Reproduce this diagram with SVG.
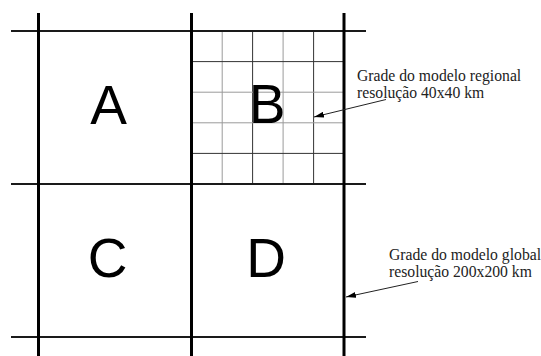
<svg xmlns="http://www.w3.org/2000/svg" width="541" height="356" viewBox="0 0 541 356">
<defs>
<style>
.hmain{stroke:#1a1a1a;stroke-width:2;fill:none}
.vmain{stroke:#000;stroke-width:3;fill:none}
.fine{stroke:#9a9a9a;stroke-width:1;fill:none}
.fined{stroke:#333;stroke-width:1;fill:none}
.big{font-family:"Liberation Sans",Arial,sans-serif;font-size:55px;fill:#000;text-anchor:middle}
.lbl{font-family:"Liberation Serif","Times New Roman",serif;font-size:15.7px;fill:#222}
.arr{stroke:#222;stroke-width:1;fill:none;marker-end:url(#ah)}
</style>
<marker id="ah" viewBox="0 0 10 6" refX="10" refY="3" markerWidth="10" markerHeight="6" markerUnits="userSpaceOnUse" orient="auto">
<path d="M0,0 L10,3 L0,6 Z" fill="#000"/>
</marker>
</defs>
<rect width="541" height="356" fill="#fff"/>
<g id="regional-grid">
<line class="fine" x1="222.2" y1="31" x2="222.2" y2="184"/>
<line class="fined" x1="252.6" y1="31" x2="252.6" y2="184"/>
<line class="fine" x1="283.1" y1="31" x2="283.1" y2="184"/>
<line class="fined" x1="313.6" y1="31" x2="313.6" y2="184"/>
<line class="fined" x1="191.7" y1="61.6" x2="344" y2="61.6"/>
<line class="fine" x1="191.7" y1="92.2" x2="344" y2="92.2"/>
<line class="fine" x1="191.7" y1="122.8" x2="344" y2="122.8"/>
<line class="fined" x1="191.7" y1="153.4" x2="344" y2="153.4"/>
</g>
<g id="global-grid">
<line class="hmain" x1="11" y1="31" x2="366" y2="31"/>
<line class="hmain" x1="11" y1="184" x2="366" y2="184"/>
<line class="hmain" x1="11" y1="337" x2="366" y2="337"/>
<line class="vmain" x1="38.5" y1="13" x2="38.5" y2="356"/>
<line class="vmain" x1="191.5" y1="13" x2="191.5" y2="356"/>
<line class="vmain" x1="344" y1="13" x2="344" y2="356"/>
</g>
<g id="A"><text class="big" x="108.5" y="124">A</text></g>
<g id="B"><text class="big" x="267" y="123">B</text></g>
<g id="C"><text class="big" x="107.5" y="277">C</text></g>
<g id="D"><text class="big" x="266" y="277">D</text></g>
<g id="label-regional">
<text class="lbl" x="357" y="81">Grade do modelo regional</text>
<text class="lbl" x="357" y="97.5">resolução 40x40 km</text>
</g>
<g id="label-global">
<text class="lbl" x="389" y="259.5">Grade do modelo global</text>
<text class="lbl" x="389" y="276.5">resolução 200x200 km</text>
</g>
<g id="connectors">
<line class="arr" x1="386" y1="99.5" x2="314" y2="117"/>
<line class="arr" x1="418" y1="281.5" x2="346" y2="297"/>
</g>
</svg>
